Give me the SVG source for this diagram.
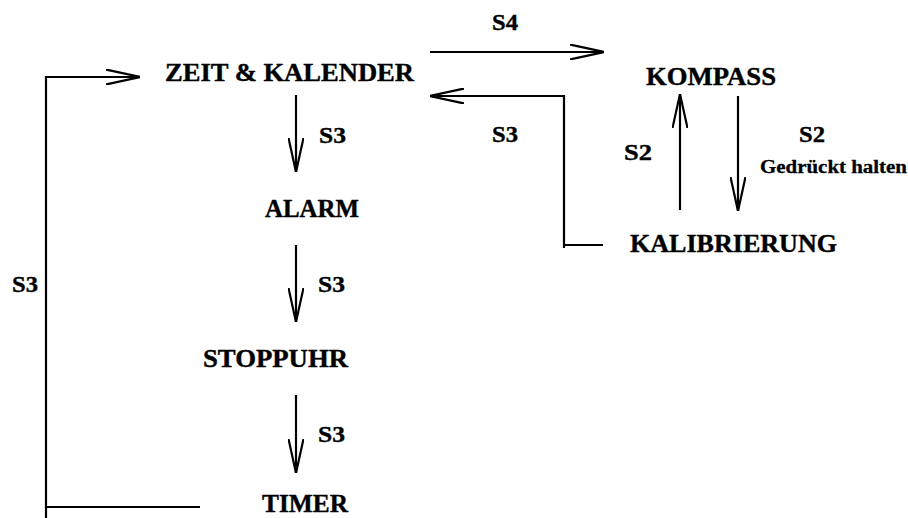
<svg xmlns="http://www.w3.org/2000/svg" width="908" height="518" viewBox="0 0 908 518">
<style>
text{font-family:"Liberation Serif","Times New Roman",serif;font-weight:bold;fill:#000;stroke:#000;stroke-width:0.4}
.n{font-size:25.5px}
.l{font-size:24px}
.s{font-size:18.5px;stroke-width:0.3}
.c{stroke:#000;stroke-width:2.2;fill:none}
</style>
<defs>
<marker id="ah" viewBox="0 0 34 16" refX="34" refY="8" markerWidth="34" markerHeight="16" orient="auto" markerUnits="userSpaceOnUse">
<path d="M0,0.5 L34,8 L0,15.5" stroke="#000" stroke-width="2.2" fill="none"/>
</marker>
</defs>
<g id="connectors">
<path class="c" d="M296,95 V172" marker-end="url(#ah)"/>
<path class="c" d="M296,245 V322" marker-end="url(#ah)"/>
<path class="c" d="M296,395 V473" marker-end="url(#ah)"/>
<path class="c" d="M200,507 H46"/>
<path class="c" d="M46,518 V77 H140" marker-end="url(#ah)"/>
<path class="c" d="M430,52 H604" marker-end="url(#ah)"/>
<path class="c" d="M603,245 H564"/>
<path class="c" d="M564,248 V96 H430" marker-end="url(#ah)"/>
<path class="c" d="M680,210 V94" marker-end="url(#ah)"/>
<path class="c" d="M738,96 V211" marker-end="url(#ah)"/>
</g>
<g id="labels">
<text class="l" x="319" y="143" textLength="27" lengthAdjust="spacingAndGlyphs">S3</text>
<text class="l" x="318" y="292" textLength="27" lengthAdjust="spacingAndGlyphs">S3</text>
<text class="l" x="318" y="442" textLength="27" lengthAdjust="spacingAndGlyphs">S3</text>
<text class="l" x="12" y="292" textLength="26" lengthAdjust="spacingAndGlyphs">S3</text>
<text class="l" x="492" y="30" textLength="26" lengthAdjust="spacingAndGlyphs">S4</text>
<text class="l" x="492" y="142" textLength="26" lengthAdjust="spacingAndGlyphs">S3</text>
<text class="l" x="624" y="160" textLength="28" lengthAdjust="spacingAndGlyphs">S2</text>
<text class="l" x="799" y="142" textLength="26" lengthAdjust="spacingAndGlyphs">S2</text>
<text class="s" x="760" y="173" textLength="147" lengthAdjust="spacingAndGlyphs">Gedrückt halten</text>
</g>
<g id="zeit"><text class="n" x="165" y="81" textLength="249" lengthAdjust="spacingAndGlyphs">ZEIT &amp; KALENDER</text></g>
<g id="alarm"><text class="n" x="265" y="217" textLength="94" lengthAdjust="spacingAndGlyphs">ALARM</text></g>
<g id="stoppuhr"><text class="n" x="203" y="367" textLength="145" lengthAdjust="spacingAndGlyphs">STOPPUHR</text></g>
<g id="timer"><text class="n" x="262" y="512" textLength="86" lengthAdjust="spacingAndGlyphs">TIMER</text></g>
<g id="kompass"><text class="n" x="646" y="85" textLength="130" lengthAdjust="spacingAndGlyphs">KOMPASS</text></g>
<g id="kalibrierung"><text class="n" x="630" y="252" textLength="207" lengthAdjust="spacingAndGlyphs">KALIBRIERUNG</text></g>
</svg>
